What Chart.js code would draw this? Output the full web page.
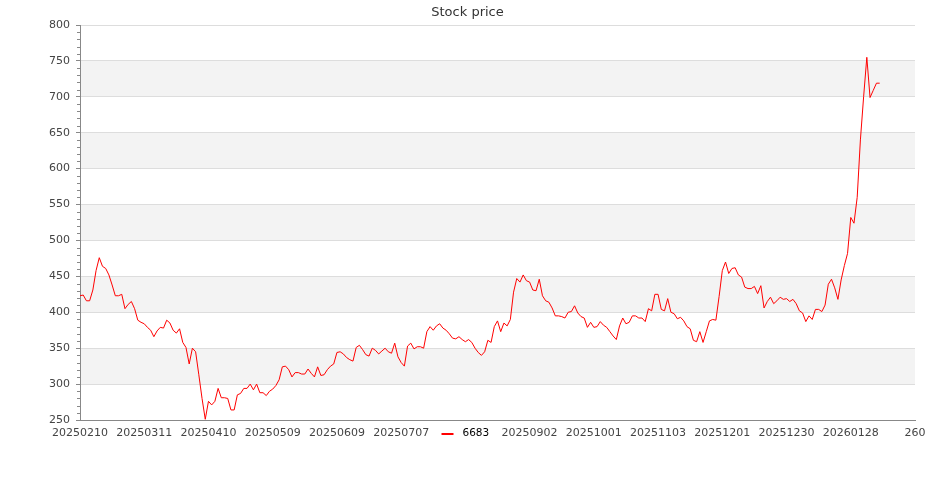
<!DOCTYPE html>
<html>
<head>
<meta charset="utf-8">
<script src="https://cdn.jsdelivr.net/npm/chart.js@4"></script>
<style>
  body { margin: 0; background: #fff; }
  #wrap { width: 935px; height: 500px; }
</style>
</head>
<body>
<div id="wrap"><canvas id="chart" width="935" height="500"></canvas></div>
<script>
// ---- data ----
const chartTitle = 'Stock price'
const seriesName = '6683'
const tickLabels = ['20250210', '20250311', '20250410', '20250509', '20250609', '20250707', '20250805',
  '20250902', '20251001', '20251103', '20251201', '20251230', '20260128', '260']
const tickEvery = 20
const prices = [
  423, 424, 416, 416, 431, 458, 476, 464, 461, 452, 438, 423, 423, 425, 405, 411, 415, 405, 389, 386,
  384, 379, 375, 366, 374, 379, 378, 389, 385, 375, 371, 377, 358, 351, 328, 350, 345, 313, 280, 251,
  276, 271, 276, 294, 281, 281, 280, 264, 264, 285, 287, 294, 294, 300, 292, 300, 288, 288, 284, 290,
  293, 298, 306, 324, 325, 320, 310, 316, 316, 314, 314, 321, 315, 310, 324, 312, 313, 320, 325, 328,
  344, 345, 342, 337, 334, 332, 351, 354, 348, 341, 339, 350, 347, 342, 346, 350, 345, 343, 357, 338,
  330, 325, 353, 357, 349, 352, 352, 350, 373, 380, 375, 381, 384, 378, 375, 370, 364, 363, 366, 362,
  359, 362, 358, 350, 344, 340, 345, 361, 358, 380, 388, 373, 385, 381, 390, 428, 447, 442, 452, 444,
  442, 431, 430, 446, 423, 416, 414, 406, 395, 395, 394, 392, 400, 401, 409, 399, 394, 392, 379, 386,
  379, 380, 387, 382, 379, 373, 367, 362, 381, 392, 384, 386, 395, 395, 392, 392, 387, 405, 402, 425,
  425, 404, 402, 419, 400, 398, 391, 393, 388, 380, 377, 361, 359, 373, 358, 373, 388, 390, 389, 422,
  458, 470, 454, 461, 462, 452, 449, 435, 433, 433, 436, 426, 437, 406, 415, 421, 412, 416, 421, 418,
  419, 415, 418, 412, 402, 399, 387, 395, 390, 404, 404, 401, 410, 439, 446, 434, 418, 445, 465, 482,
  532, 524, 560, 640, 700, 755, 699, 709, 719, 719
]
const yMin = 250
const yMax = 800

// category axis runs past the data to the last tick label
const categories = []
for (let i = 0; i <= (tickLabels.length - 1) * tickEvery; i++) categories.push(String(i))

const FONT = 'DejaVu Sans'

// alternating grey bands + minor ticks on the y axis
const bandsPlugin = {
  id: 'bands',
  beforeDraw(chart) {
    const { ctx, chartArea: a, scales: { y } } = chart
    ctx.save()
    ctx.fillStyle = '#f3f3f3'
    for (let v = 300; v < yMax; v += 100) {
      const top = y.getPixelForValue(v + 50)
      const bot = y.getPixelForValue(v)
      ctx.fillRect(a.left, top, a.right - a.left, bot - top)
    }
    ctx.restore()
  },
  afterDraw(chart) {
    const { ctx, chartArea: a, scales: { y } } = chart
    ctx.save()
    ctx.strokeStyle = '#888'
    ctx.lineWidth = 1
    for (let v = yMin + 10; v < yMax; v += 10) {
      if (v % 50 === 0) continue
      const py = Math.round(y.getPixelForValue(v)) + 0.5
      ctx.beginPath()
      ctx.moveTo(a.left - 3, py)
      ctx.lineTo(a.left, py)
      ctx.stroke()
    }
    ctx.restore()
  }
}

// title centred on the whole canvas; legend sits on the x label row
// with a white box over the label underneath it
const textPlugin = {
  id: 'texts',
  afterDraw(chart) {
    const { ctx, chartArea: a, width } = chart
    ctx.save()
    ctx.fillStyle = '#333'
    ctx.font = `13px '${FONT}'`
    ctx.textAlign = 'center'
    ctx.textBaseline = 'alphabetic'
    ctx.fillText(chartTitle, width / 2, 16)

    const cx = width / 2
    const y = a.bottom + 14
    ctx.fillStyle = '#fff'
    ctx.fillRect(cx - 30, y - 8, 61, 17)
    ctx.strokeStyle = '#ff0000'
    ctx.lineWidth = 2
    ctx.beginPath()
    ctx.moveTo(cx - 26, y)
    ctx.lineTo(cx - 14, y)
    ctx.stroke()
    ctx.fillStyle = '#000'
    ctx.font = `10.5px '${FONT}'`
    ctx.textAlign = 'left'
    ctx.textBaseline = 'middle'
    ctx.fillText(seriesName, cx - 5, y - 0.5)
    ctx.restore()
  }
}

new Chart(document.getElementById('chart'), {
  type: 'line',
  data: {
    labels: categories,
    datasets: [{
      label: seriesName,
      data: prices,
      borderColor: '#ff0000',
      borderWidth: 1,
      pointRadius: 0,
      tension: 0,
      fill: false,
    }]
  },
  options: {
    responsive: false,
    animation: false,
    layout: { padding: { left: 0, right: 20, top: 25, bottom: 0 } },
    plugins: {
      legend: { display: false },
      tooltip: { enabled: false },
      title: { display: false }
    },
    scales: {
      x: {
        type: 'category',
        offset: false,
        grid: { display: false, drawTicks: false },
        border: { color: '#888' },
        ticks: {
          color: '#444',
          font: { family: FONT, size: 11 },
          autoSkip: false,
          maxRotation: 0,
          padding: 7,
          callback: (v, i) => i % tickEvery === 0 ? tickLabels[i / tickEvery] : ''
        },
        afterFit(scale) { scale.height = 80 }
      },
      y: {
        min: yMin,
        max: yMax,
        grid: { color: '#dddddd', tickColor: '#888', tickLength: 4 },
        border: { color: '#888' },
        ticks: {
          stepSize: 50,
          color: '#444',
          font: { family: FONT, size: 11 },
          padding: 6
        },
        afterFit(scale) { scale.width = 80 }
      }
    }
  },
  plugins: [bandsPlugin, textPlugin]
})
</script>
</body>
</html>
